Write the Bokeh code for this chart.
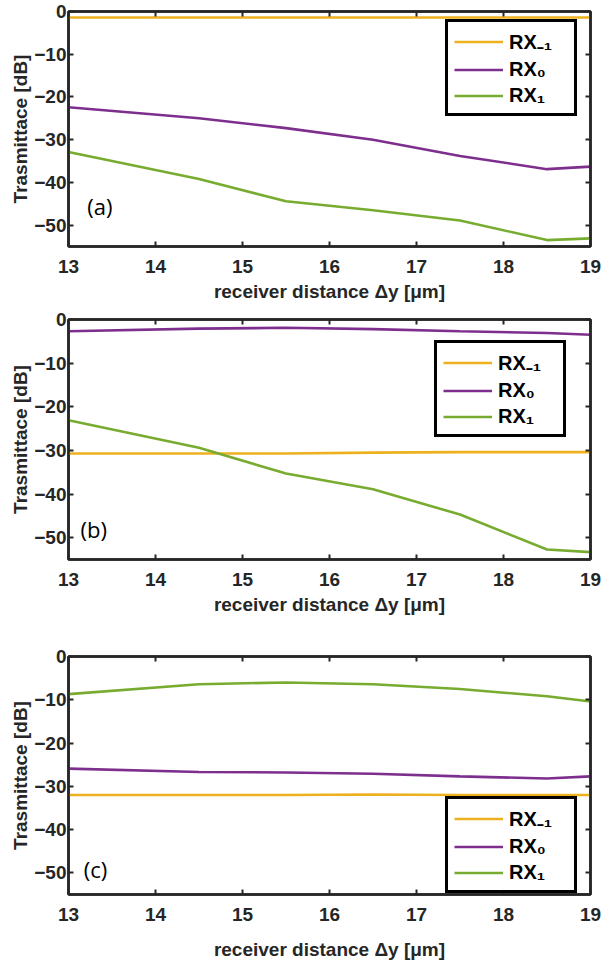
from bokeh.plotting import figure
from bokeh.models import Range1d, FixedTicker, LinearAxis, Legend, LegendItem, Label
from bokeh.layouts import column
from bokeh.embed import file_html
from bokeh.resources import INLINE

# ---- data ----
x_um = [13, 14.5, 15.5, 16.5, 17.5, 18.5, 19]

a_rxm1 = [-1.4, -1.4, -1.4, -1.4, -1.4, -1.4, -1.4]
a_rx0 = [-22.4, -25.0, -27.3, -30.0, -33.8, -36.9, -36.3]
a_rx1 = [-32.9, -39.2, -44.4, -46.5, -48.9, -53.5, -53.1]

b_rxm1 = [-30.7, -30.7, -30.7, -30.5, -30.4, -30.4, -30.4]
b_rx0 = [-2.7, -2.1, -1.9, -2.2, -2.7, -3.1, -3.5]
b_rx1 = [-23.1, -29.4, -35.3, -38.9, -44.7, -52.7, -53.3]

c_rxm1 = [-32.0, -32.0, -32.0, -31.9, -32.0, -32.0, -32.0]
c_rx0 = [-25.9, -26.7, -26.8, -27.1, -27.7, -28.2, -27.7]
c_rx1 = [-8.7, -6.4, -6.0, -6.4, -7.5, -9.2, -10.4]

x_ticks = [13, 14, 15, 16, 17, 18, 19]
y_ticks = [-50, -40, -30, -20, -10, 0]
series_labels = ["RX\u208b\u2081", "RX\u2080", "RX\u2081"]
series_colors = ["#EDB120", "#7E2F8E", "#77AC30"]
panel_tags = ["(a)", "(b)", "(c)"]

FONT = "Liberation Sans"
INK = "#262626"


def make_panel(series, tag, width, height, borders, legend_loc, tag_xy, xlab_standoff):
    left, right, top, bottom = borders
    p = figure(width=width, height=height, output_backend="svg", toolbar_location=None,
               x_range=Range1d(13, 19), y_range=Range1d(-55, 0),
               min_border_left=left, min_border_right=right,
               min_border_top=top, min_border_bottom=bottom,
               background_fill_color="white", border_fill_color="white")
    p.grid.visible = False
    p.outline_line_color = INK
    p.outline_line_width = 2.5

    p.xaxis.ticker = FixedTicker(ticks=x_ticks)
    p.yaxis.ticker = FixedTicker(ticks=y_ticks)
    for ax in (p.xaxis[0], p.yaxis[0]):
        ax.major_tick_in = 5
        ax.major_tick_out = 0
        ax.minor_tick_line_color = None
        ax.major_tick_line_color = INK
        ax.major_tick_line_width = 2
        ax.axis_line_color = INK
        ax.axis_line_width = 2.5
        ax.major_label_text_font = FONT
        ax.major_label_text_font_style = "bold"
        ax.major_label_text_font_size = "19px"
        ax.major_label_text_color = INK
        ax.axis_label_text_font = FONT
        ax.axis_label_text_font_style = "bold"
        ax.axis_label_text_font_size = "19px"
        ax.axis_label_text_color = INK
    p.xaxis.axis_label = "receiver distance \u0394y [\u03bcm]"
    p.yaxis.axis_label = "Trasmittace [dB]"
    p.xaxis.major_label_standoff = 13
    p.xaxis.axis_label_standoff = xlab_standoff
    p.yaxis.major_label_standoff = 2
    p.yaxis.axis_label_standoff = 0

    # mirrored inward ticks on the top and right edges (no labels)
    for place, tk in (("right", y_ticks), ("above", x_ticks)):
        ax = LinearAxis(ticker=FixedTicker(ticks=tk), major_tick_in=5, major_tick_out=0,
                        major_tick_line_color=INK, major_tick_line_width=2,
                        minor_tick_line_color=None, axis_line_color=INK, axis_line_width=2.5,
                        major_label_text_font_size="0px", major_label_text_color=None,
                        major_label_standoff=0)
        p.add_layout(ax, place)

    items = []
    for ys, lab, col in zip(series, series_labels, series_colors):
        r = p.line(x_um, ys, line_color=col, line_width=2.6)
        items.append(LegendItem(label=lab, renderers=[r]))

    leg = Legend(items=items, location=legend_loc, margin=0, padding=6, spacing=3,
                 glyph_width=49, glyph_height=23, label_width=59, label_height=23,
                 label_standoff=6,
                 border_line_color="black", border_line_width=3, border_line_alpha=1.0,
                 background_fill_color="white", background_fill_alpha=1.0,
                 label_text_font=FONT, label_text_font_style="bold",
                 label_text_font_size="20px", label_text_color="black")
    p.add_layout(leg)

    p.add_layout(Label(x=tag_xy[0], y=tag_xy[1], text=tag, text_font="Open Sans",
                       text_font_size="22px", text_color="black",
                       text_align="center", text_baseline="middle"))
    return p


pa = make_panel([a_rxm1, a_rx0, a_rx1], panel_tags[0], 604, 304, (68, 14, 11, 55),
                (377, 130), (13.36, -45.6), 5)
pb = make_panel([b_rxm1, b_rx0, b_rx1], panel_tags[1], 604, 328, (68, 14, 15, 73),
                (366, 122), (13.29, -48.0), 5)
pc = make_panel([c_rxm1, c_rx0, c_rx1], panel_tags[2], 604, 331, (68, 14, 24, 69),
                (377, 1), (13.31, -49.0), 15)

layout = column(pa, pb, pc)
open("out.html", "w").write(file_html(layout, INLINE))
